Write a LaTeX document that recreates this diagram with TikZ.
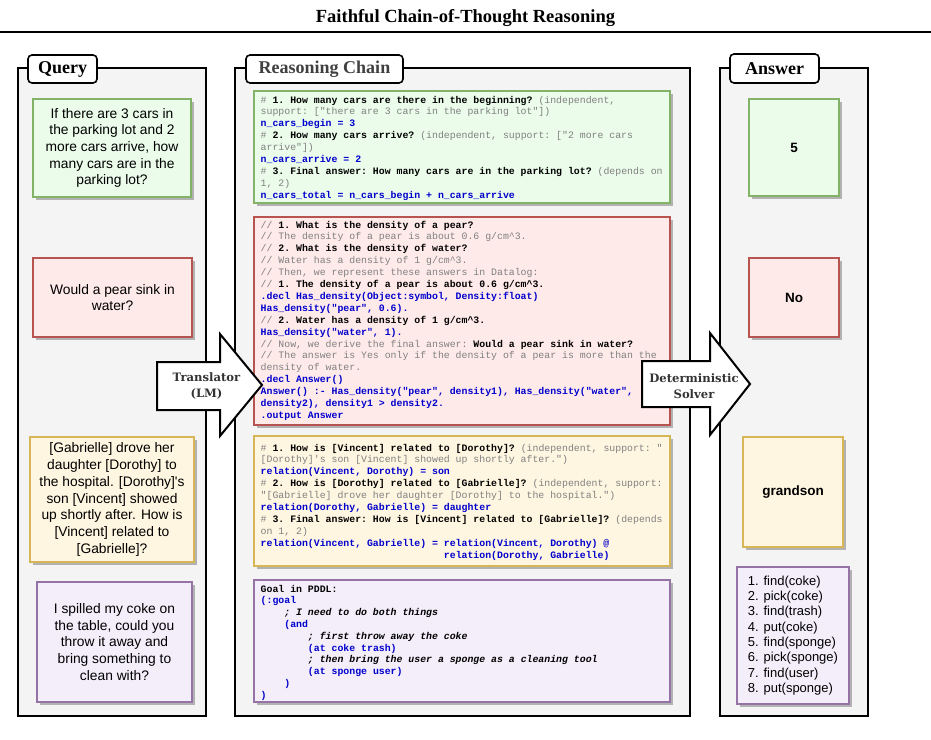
\documentclass[tikz,border=0pt]{standalone}
\usepackage{fontspec}
\setmainfont{Liberation Sans}[Ligatures=TeXOff]
\setmonofont{Liberation Mono}
\newfontfamily\titlefont{Liberation Serif}
\newfontfamily\arrowfont{DejaVu Serif}
\usetikzlibrary{shadows}
\definecolor{gfill}{RGB}{235,252,235}
\definecolor{gline}{RGB}{130,179,102}
\definecolor{rfill}{RGB}{255,234,234}
\definecolor{rline}{RGB}{184,84,80}
\definecolor{yfill}{RGB}{255,246,225}
\definecolor{yline}{RGB}{214,182,86}
\definecolor{pfill}{RGB}{244,238,250}
\definecolor{pline}{RGB}{150,115,166}
\definecolor{panelfill}{RGB}{244,244,244}
\definecolor{cgray}{RGB}{128,128,128}
\definecolor{cblue}{RGB}{0,0,204}
\newcommand\CG[1]{\textcolor{cgray}{#1}}
\newcommand\QB[1]{\textbf{#1}}
\newcommand\CB[1]{\textcolor{cblue}{\textbf{#1}}}
\newcommand\IT[1]{\textbf{\textit{#1}}}
\begin{document}
\begin{tikzpicture}[x=1pt,y=-1pt,
  panel/.style={draw=black, line width=2, fill=panelfill, inner sep=0},
  lbl/.style={draw=black, line width=1.6, fill=white, rounded corners=4, inner sep=0,
    font=\titlefont\bfseries\fontsize{18}{20}\selectfont},
  shad/.style={drop shadow={shadow xshift=3pt, shadow yshift=-3pt, fill=black!30, opacity=1}},
  qbox/.style={draw, line width=1.8, align=center, inner sep=0, shad,
    font=\fontsize{13.8}{16.7}\selectfont},
  abox/.style={draw, line width=1.8, align=center, inner sep=0, shad,
    font=\bfseries\fontsize{13.5}{16}\selectfont},
  codebox/.style={draw, line width=1.8, inner sep=0, shad},
  codeline/.style={anchor=base west, inner sep=0, font=\ttfamily\fontsize{9.85}{11.9}\selectfont},
  arrowshape/.style={draw=black, line width=2, fill=white, line join=miter},
  arrowtext/.style={align=center, inner sep=0, text=black!80,
    font=\arrowfont\bfseries\fontsize{11.6}{16}\selectfont}
]
\useasboundingbox (0,0) rectangle (931,739);
\fill[white] (0,0) rectangle (931,739);

% title
\node[font=\titlefont\bfseries\fontsize{18.5}{20}\selectfont] (title) at (465.5,18) {Faithful Chain-of-Thought Reasoning};
\coordinate (tl) at (0,32);
\coordinate (tr) at (931,32);
\draw[line width=2] (tl) -- (tr);

% panels
\node[panel, minimum width=188, minimum height=648] (qpanel) at (112,392) {};
\node[panel, minimum width=455, minimum height=648] (rpanel) at (462.5,392) {};
\node[panel, minimum width=148, minimum height=648] (apanel) at (794,392) {};

\node[lbl, minimum width=69, minimum height=28] (qlbl) at (62.5,69) {Query};
\node[lbl, minimum width=157, minimum height=28, text=black!75] (rlbl) at (324.5,69) {Reasoning Chain};
\node[lbl, minimum width=89, minimum height=29] (albl) at (774.5,68.5) {Answer};

% query boxes
\node[qbox, fill=gfill, draw=gline, minimum width=158, minimum height=98] (q1) at (112,148)
  {If there are 3 cars in\\the parking lot and 2\\more cars arrive, how\\many cars are in the\\parking lot?};
\node[qbox, fill=rfill, draw=rline, minimum width=159, minimum height=79] (q2) at (112.5,297.5)
  {Would a pear sink in\\water?};
\node[qbox, fill=yfill, draw=yline, minimum width=164, minimum height=125] (q3) at (112,499.5)
  {{}[Gabrielle] drove her\\daughter [Dorothy] to\\the hospital. [Dorothy]'s\\son [Vincent] showed\\up shortly after. How is\\{}[Vincent] related to\\{}[Gabrielle]?};
\node[qbox, fill=pfill, draw=pline, minimum width=155, minimum height=120] (q4) at (114.5,642)
  {I spilled my coke on\\the table, could you\\throw it away and\\bring something to\\clean with?};

% answer boxes
\node[abox, fill=gfill, draw=gline, minimum width=90, minimum height=97] (a1) at (794,147.5) {5};
\node[abox, fill=rfill, draw=rline, minimum width=90, minimum height=79] (a2) at (794,297.5) {No};
\node[abox, fill=yfill, draw=yline, minimum width=100, minimum height=110] (a3) at (793,492) {grandson};
\node[qbox, fill=pfill, draw=pline, minimum width=112, minimum height=137, align=left,
  font=\fontsize{13}{15.3}\selectfont] (a4) at (793,635.5)
  {1. find(coke)\\2. pick(coke)\\3. find(trash)\\4. put(coke)\\5. find(sponge)\\6. pick(sponge)\\7. find(user)\\8. put(sponge)};

% code boxes
\node[codebox, fill=gfill, draw=gline, minimum width=416, minimum height=112] (c1) at (462,147) {};
\node[codebox, fill=rfill, draw=rline, minimum width=416, minimum height=208] (c2) at (462,321) {};
\node[codebox, fill=yfill, draw=yline, minimum width=416, minimum height=130] (c3) at (462,501) {};
\node[codebox, fill=pfill, draw=pline, minimum width=416, minimum height=122] (c4) at (462,641) {};

\foreach \t [count=\i] in {
 {\CG{\#} \QB{1. How many cars are there in the beginning?} \CG{(independent,}},
 {\CG{support: ["there are 3 cars in the parking lot"])}},
 {\CB{n\_cars\_begin = 3}},
 {\CG{\#} \QB{2. How many cars arrive?} \CG{(independent, support: ["2 more cars}},
 {\CG{arrive"])}},
 {\CB{n\_cars\_arrive = 2}},
 {\CG{\#} \QB{3. Final answer: How many cars are in the parking lot?} \CG{(depends on}},
 {\CG{1, 2)}},
 {\CB{n\_cars\_total = n\_cars\_begin + n\_cars\_arrive}}}
 \node[codeline, name=gl\i] at (260.5,{103+11.9*(\i-1)}) {\t};

\foreach \t [count=\i] in {
 {\CG{//} \QB{1. What is the density of a pear?}},
 {\CG{// The density of a pear is about 0.6 g/cm\textasciicircum3.}},
 {\CG{//} \QB{2. What is the density of water?}},
 {\CG{// Water has a density of 1 g/cm\textasciicircum3.}},
 {\CG{// Then, we represent these answers in Datalog:}},
 {\CG{//} \QB{1. The density of a pear is about 0.6 g/cm\textasciicircum3.}},
 {\CB{.decl Has\_density(Object:symbol, Density:float)}},
 {\CB{Has\_density("pear", 0.6).}},
 {\CG{//} \QB{2. Water has a density of 1 g/cm\textasciicircum3.}},
 {\CB{Has\_density("water", 1).}},
 {\CG{// Now, we derive the final answer:} \QB{Would a pear sink in water?}},
 {\CG{// The answer is Yes only if the density of a pear is more than the}},
 {\CG{density of water.}},
 {\CB{.decl Answer()}},
 {\CB{Answer() :- Has\_density("pear", density1), Has\_density("water",}},
 {\CB{density2), density1 > density2.}},
 {\CB{.output Answer}}}
 \node[codeline, name=rl\i] at (260.5,{228+11.9*(\i-1)}) {\t};

\foreach \t [count=\i] in {
 {\CG{\#} \QB{1. How is [Vincent] related to [Dorothy]?} \CG{(independent, support: "}},
 {\CG{[Dorothy]'s son [Vincent] showed up shortly after.")}},
 {\CB{relation(Vincent, Dorothy) = son}},
 {\CG{\#} \QB{2. How is [Dorothy] related to [Gabrielle]?} \CG{(independent, support:}},
 {\CG{"[Gabrielle] drove her daughter [Dorothy] to the hospital.")}},
 {\CB{relation(Dorothy, Gabrielle) = daughter}},
 {\CG{\#} \QB{3. Final answer: How is [Vincent] related to [Gabrielle]?} \CG{(depends}},
 {\CG{on 1, 2)}},
 {\CB{relation(Vincent, Gabrielle) = relation(Vincent, Dorothy) @}},
 {\hphantom{relation(Vincent, Gabrielle) = }\CB{relation(Dorothy, Gabrielle)}}}
 \node[codeline, name=yl\i] at (260.5,{451+11.9*(\i-1)}) {\t};

\foreach \t [count=\i] in {
 {\QB{Goal in PDDL:}},
 {\CB{(:goal}},
 {\hphantom{0000}\IT{; I need to do both things}},
 {\hphantom{0000}\CB{(and}},
 {\hphantom{00000000}\IT{; first throw away the coke}},
 {\hphantom{00000000}\CB{(at coke trash)}},
 {\hphantom{00000000}\IT{; then bring the user a sponge as a cleaning tool}},
 {\hphantom{00000000}\CB{(at sponge user)}},
 {\hphantom{0000}\CB{)}},
 {\CB{)}}}
 \node[codeline, name=pl\i] at (260.5,{592+11.8*(\i-1)}) {\t};

% arrows
\draw[arrowshape] (157,362) -- (220,362) -- (220,334) -- (262,385) -- (220,436) -- (220,410) -- (157,410) -- cycle;
\node[arrowtext] (trans) at (206.5,386) {Translator\\(LM)};
\draw[arrowshape] (642,361) -- (710,361) -- (710,333) -- (750,384) -- (710,435) -- (710,407) -- (642,407) -- cycle;
\node[arrowtext] (solver) at (694,386) {Deterministic\\Solver};
\end{tikzpicture}
\end{document}
